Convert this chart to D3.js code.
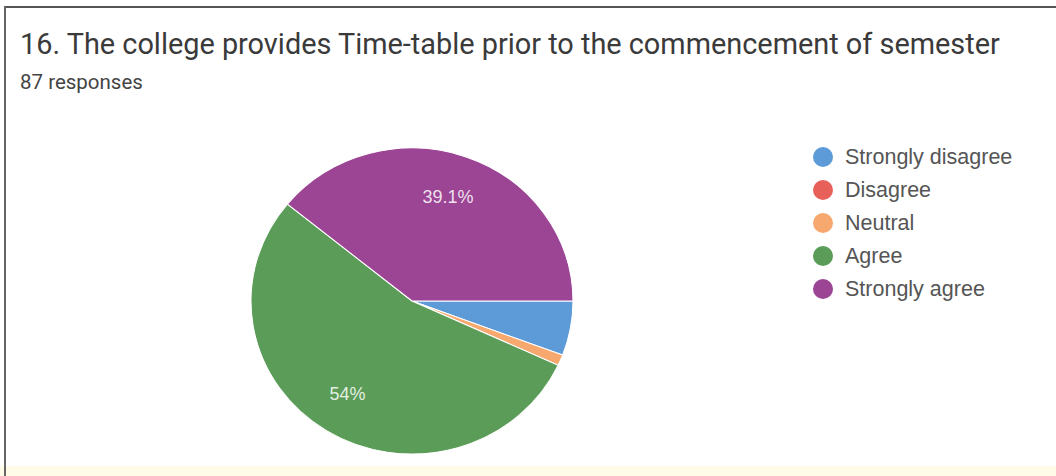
<!DOCTYPE html>
<html><head><meta charset="utf-8">
<script src="https://cdn.jsdelivr.net/npm/d3@7"></script>
<style>html,body{margin:0;padding:0;background:#fff;}svg{display:block;}</style>
</head><body>
<svg id="c" width="1056" height="476"></svg>
<script>
const categories = ["Strongly disagree", "Disagree", "Neutral", "Agree", "Strongly agree"];
const counts = [5, 0, 1, 47, 34];
const colors = ["#5c9bd8", "#e8605a", "#f7a86e", "#5b9c58", "#9c4595"];
const titleText = "16. The college provides Time-table prior to the commencement of semester";
const subtitleText = "87 responses";

const svg = d3.select("#c");
const W = 1056, H = 476;
svg.append("rect").attr("width", W).attr("height", H).attr("fill", "#fff");
// frame
svg.append("rect").attr("x", 0).attr("y", 466).attr("width", W).attr("height", 10).attr("fill", "#fffbe6");
svg.append("line").attr("x1", 5).attr("x2", W).attr("y1", 7).attr("y2", 7).attr("stroke", "#555").attr("stroke-width", 2);
svg.append("line").attr("x1", 5).attr("x2", 5).attr("y1", 6).attr("y2", H).attr("stroke", "#666").attr("stroke-width", 2);

const title = svg.append("text").attr("x", 20).attr("y", 54)
  .attr("font-family", "Roboto, sans-serif").attr("font-size", 26).attr("fill", "#3a3a3a")
  .text(titleText);
const tl = title.node().getComputedTextLength();
if (tl > 0) title.attr("font-size", 26 * 980 / tl);

svg.append("text").attr("x", 20).attr("y", 89)
  .attr("font-family", "Roboto, sans-serif").attr("font-size", 20.5).attr("fill", "#444")
  .text(subtitleText);

const total = d3.sum(counts);
const cx = 412, cy = 301, ry = 153, rx = 161;
const pie = d3.pie().sort(null).value(d => d).startAngle(Math.PI / 2).endAngle(Math.PI / 2 + 2 * Math.PI);
const arcs = pie(counts);
const arc = d3.arc().innerRadius(0).outerRadius(ry);
const g = svg.append("g").attr("transform", `translate(${cx},${cy}) scale(${rx / ry},1)`);
g.selectAll("path").data(arcs).join("path")
  .attr("d", arc).attr("fill", (d, i) => colors[i])
  .attr("stroke", "#fff").attr("stroke-width", d => d.data > 0 ? 1 : 0);

const fmt = v => { const p = Math.round(v / total * 1000) / 10; return (p % 1 === 0 ? p.toFixed(0) : p.toFixed(1)) + "%"; };
const labelArc = d3.arc().innerRadius(ry * 0.72).outerRadius(ry * 0.72);
const lg = svg.append("g").attr("transform", `translate(${cx},${cy})`);
arcs.forEach((d, i) => {
  if (d.data / total < 0.1) return;
  const [x, y] = labelArc.centroid(d);
  lg.append("text").attr("x", x * rx / ry - 3).attr("y", y + 6)
    .attr("text-anchor", "middle").attr("font-family", "Arial, Liberation Sans, sans-serif")
    .attr("font-size", 18).attr("fill", "#fff").attr("fill-opacity", 0.85).text(fmt(d.data));
});

const leg = svg.append("g").attr("transform", "translate(823,157)");
categories.forEach((c, i) => {
  const row = leg.append("g").attr("transform", `translate(0,${i * 33})`);
  row.append("circle").attr("r", 10).attr("fill", colors[i]);
  row.append("text").attr("x", 22).attr("y", 7).attr("font-family", "Arial, Liberation Sans, sans-serif")
    .attr("font-size", 21.5).attr("fill", "#555").text(c);
});
</script>
</body></html>
